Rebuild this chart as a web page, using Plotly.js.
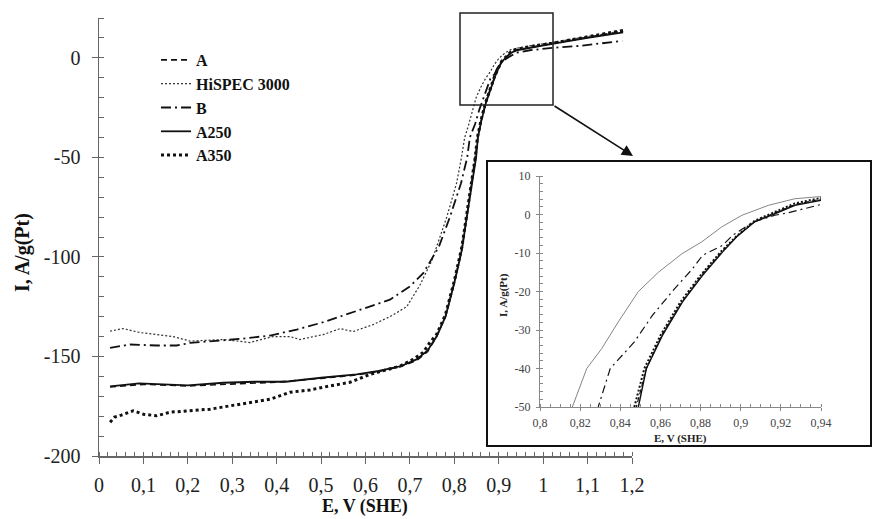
<!DOCTYPE html>
<html><head><meta charset="utf-8">
<script src="https://cdn.plot.ly/plotly-3.0.1.min.js"></script>
<style>html,body{margin:0;padding:0;background:#fff}#chart{width:873px;height:519px}</style>
</head><body><div id="chart"></div>
<script>
// ---- data ----
const seriesNames = ["A", "HiSPEC 3000", "B", "A250", "A350"];

const aE = [0.025,0.1,0.2,0.3,0.4,0.5,0.58,0.63,0.68,0.715,0.74,0.76,0.78,0.80,0.817,0.828,0.839,0.848,0.853,0.861,0.871,0.881,0.891,0.898,0.907,0.917,0.927,0.94,0.97,1.02,1.1,1.18];
const aI = [-165.3,-164,-164.8,-163.8,-162.9,-161,-159.3,-157.5,-155,-152,-147.5,-140,-130,-113,-96,-80,-63,-50,-40,-31,-22.5,-15.5,-9.5,-5.7,-1.8,0.4,2.6,4.0,5.3,7.2,10.3,13.4];

const hiE = [0.025,0.054,0.092,0.167,0.205,0.28,0.34,0.392,0.43,0.452,0.505,0.543,0.572,0.617,0.655,0.693,0.723,0.75,0.783,0.805,0.8161,0.8233,0.8308,0.839,0.849,0.859,0.8707,0.8806,0.8906,0.9006,0.9139,0.927,0.94,0.97,1.02,1.1,1.18];
const hiI = [-137.3,-136,-138,-140,-142.3,-141.5,-143,-140,-140,-141.5,-139,-136,-137.5,-134,-130,-125,-114,-101.5,-80,-63,-50,-40,-34.8,-27.9,-20,-15,-10.2,-7.1,-3.2,-0.2,2.4,4.1,4.8,6.0,7.8,10.5,13.5];

const bE = [0.025,0.07,0.13,0.175,0.205,0.265,0.317,0.385,0.445,0.505,0.58,0.655,0.7,0.73,0.765,0.79,0.815,0.829,0.835,0.847,0.856,0.867,0.876,0.881,0.891,0.896,0.906,0.917,0.924,0.94,0.97,1.02,1.083,1.178];
const bI = [-145.7,-144,-144.5,-144.5,-143.2,-142.3,-141.2,-139.5,-136.5,-132.8,-127.3,-121.5,-114.8,-108.2,-95,-80,-63,-50,-40,-33.1,-26.2,-19.3,-14.1,-10.6,-8,-5.4,-2,-0.2,0.5,2.6,3.8,5,6,8.5];

const a250E = [0.025,0.09,0.2,0.28,0.35,0.42,0.5,0.58,0.63,0.68,0.715,0.74,0.76,0.78,0.80,0.817,0.828,0.839,0.849,0.853,0.861,0.871,0.881,0.891,0.898,0.907,0.917,0.927,0.94,0.97,1.02,1.1,1.18];
const a250I = [-165,-163.5,-164.5,-163.2,-162.7,-162.7,-160.7,-159,-157.3,-154.8,-151.5,-147,-140,-130,-113,-96.5,-80,-63,-50,-40,-31.4,-22.7,-15.8,-9.7,-5.8,-1.9,0.2,2.4,3.7,5.0,7.0,10,12.8];

const a350E = [0.025,0.035,0.05,0.077,0.1,0.13,0.16,0.205,0.25,0.295,0.34,0.385,0.43,0.475,0.52,0.565,0.61,0.64,0.678,0.707,0.73,0.745,0.76,0.78,0.80,0.817,0.828,0.839,0.847,0.852,0.86,0.87,0.88,0.89,0.898,0.907,0.917,0.927,0.94,0.97,1.02,1.1,1.18];
const a350I = [-183,-180.5,-179.5,-177.3,-179,-179.8,-178,-177.3,-176.5,-174.8,-173,-171.5,-168,-166.8,-164.8,-163,-159,-157.3,-154.8,-151.5,-148,-143,-139,-129,-112,-95,-79,-62,-50,-40,-31.4,-22.7,-15.8,-9.7,-5.6,-1.6,0.6,2.9,4.3,5.6,7.3,10.5,13.8];

const mainXTickVals = [0,0.1,0.2,0.3,0.4,0.5,0.6,0.7,0.8,0.9,1,1.1,1.2];
const mainXTickText = ["0","0,1","0,2","0,3","0,4","0,5","0,6","0,7","0,8","0,9","1","1,1","1,2"];
const mainYTickVals = [-200,-150,-100,-50,0];
const mainYTickText = ["-200","-150","-100","-50","0"];
const insetXTickVals = [0.8,0.82,0.84,0.86,0.88,0.9,0.92,0.94];
const insetXTickText = ["0,8","0,82","0,84","0,86","0,88","0,9","0,92","0,94"];
const insetYTickVals = [-50,-40,-30,-20,-10,0,10];
const insetYTickText = ["-50","-40","-30","-20","-10","0","10"];

// ---- styles ----
const xs = [aE, hiE, bE, a250E, a350E];
const ys = [aI, hiI, bI, a250I, a350I];
const mainLines = [
  {color:'#111', width:1.6, dash:'6px,4px'},
  {color:'#333', width:1.2, dash:'2px,2px'},
  {color:'#111', width:1.8, dash:'10px,4px,2px,4px'},
  {color:'#111', width:1.8, dash:'solid'},
  {color:'#111', width:3, dash:'3px,3px'}
];
const insetLines = [
  {color:'#111', width:1.2, dash:'5px,3px'},
  {color:'#777', width:0.9, dash:'solid'},
  {color:'#111', width:1.2, dash:'8px,4px,2px,4px'},
  {color:'#111', width:1.4, dash:'solid'},
  {color:'#111', width:2, dash:'2px,2px'}
];

const traces = [];
for (let i = 0; i < 5; i++) {
  traces.push({x: xs[i], y: ys[i], name: seriesNames[i], type:'scatter', mode:'lines',
    line: mainLines[i], xaxis:'x', yaxis:'y', hoverinfo:'skip'});
}
for (let i = 0; i < 5; i++) {
  traces.push({x: xs[i], y: ys[i], name: seriesNames[i], type:'scatter', mode:'lines',
    line: insetLines[i], xaxis:'x2', yaxis:'y2', showlegend:false, hoverinfo:'skip'});
}

const W = 873, H = 519;
const px = v => v / W;
const py = v => 1 - v / H;
const serif = '"Liberation Serif", "Times New Roman", Times, serif';
const axisCol = '#666';

const layout = {
  width: W, height: H,
  margin: {l:0, r:0, t:0, b:0},
  paper_bgcolor:'#fff', plot_bgcolor:'rgba(0,0,0,0)',
  font: {family: serif},
  showlegend: true,
  legend: {x: px(156), y: py(43), xanchor:'left', yanchor:'top', bgcolor:'rgba(0,0,0,0)',
    font:{family: serif, size:16, color:'#111', weight:'bold'}, itemwidth:30, tracegroupgap:0},
  xaxis: {domain:[px(99), px(632)], range:[0,1.2], anchor:'y',
    tickmode:'array', tickvals: mainXTickVals, ticktext: mainXTickText,
    ticks:'outside', ticklen:6, tickwidth:1, tickcolor:axisCol,
    minor:{tickmode:'linear', tick0:0, dtick:0.02, ticks:'inside', ticklen:4, tickcolor:axisCol, showgrid:false},
    showline:true, linecolor:axisCol, linewidth:1.5, showgrid:false, zeroline:false,
    tickfont:{family: serif, size:20, color:'#222'}, ticklabelstandoff:4},
  yaxis: {domain:[py(456), py(18)], range:[-200,20], anchor:'x',
    tickmode:'array', tickvals: mainYTickVals, ticktext: mainYTickText,
    ticks:'outside', ticklen:6, tickwidth:1, tickcolor:axisCol,
    minor:{tickmode:'linear', tick0:0, dtick:10, ticks:'inside', ticklen:5, tickcolor:axisCol, showgrid:false},
    showline:true, linecolor:axisCol, linewidth:1.5, showgrid:false, zeroline:false,
    tickfont:{family: serif, size:20, color:'#222'}, ticklabelstandoff:7},
  xaxis3: {overlaying:'x', anchor:'y', range:[0,1.2], tickmode:'array', tickvals: mainXTickVals,
    ticks:'inside', ticklen:4, tickcolor:axisCol, showticklabels:false, showline:false, showgrid:false, zeroline:false},
  yaxis3: {overlaying:'y', anchor:'x', range:[-200,20], tickmode:'array', tickvals: mainYTickVals,
    ticks:'inside', ticklen:5, tickcolor:axisCol, showticklabels:false, showline:false, showgrid:false, zeroline:false},
  xaxis2: {domain:[px(540), px(821)], range:[0.8,0.94], anchor:'y2',
    tickmode:'array', tickvals: insetXTickVals, ticktext: insetXTickText,
    ticks:'outside', ticklen:3, tickcolor:'#888',
    minor:{tickmode:'linear', tick0:0.8, dtick:0.005, ticks:'inside', ticklen:3, tickcolor:'#888', showgrid:false},
    showline:true, linecolor:'#888', linewidth:1, showgrid:false, zeroline:false,
    tickfont:{family: serif, size:12, color:'#444'}, ticklabelstandoff:2},
  yaxis2: {domain:[py(407), py(176)], range:[-50,10], anchor:'x2',
    tickmode:'array', tickvals: insetYTickVals, ticktext: insetYTickText,
    ticks:'outside', ticklen:3, tickcolor:'#888',
    minor:{tickmode:'linear', tick0:0, dtick:2, ticks:'inside', ticklen:3, tickcolor:'#888', showgrid:false},
    showline:true, linecolor:'#888', linewidth:1, showgrid:false, zeroline:false,
    tickfont:{family: serif, size:12, color:'#444'}, ticklabelstandoff:3},
  shapes: [
    {type:'rect', xref:'paper', yref:'paper', x0:px(487), x1:px(871), y0:py(446), y1:py(161),
      line:{color:'#111', width:2}, fillcolor:'#fff', layer:'below'},
    {type:'rect', xref:'paper', yref:'paper', x0:px(460), x1:px(553), y0:py(105), y1:py(13),
      line:{color:'#222', width:1.5}, fillcolor:'rgba(0,0,0,0)', layer:'above'}
  ],
  annotations: [
    {xref:'paper', yref:'paper', x:px(633), y:py(156), ax:-80, ay:-51, axref:'pixel', ayref:'pixel',
      showarrow:true, arrowhead:2, arrowsize:1.4, arrowwidth:1.6, arrowcolor:'#111', text:''},
    {xref:'paper', yref:'paper', x:px(365), y:py(506), text:'E, V (SHE)', showarrow:false,
      font:{family: serif, size:18, color:'#111', weight:'bold'}, xanchor:'center', yanchor:'middle'},
    {xref:'paper', yref:'paper', x:px(22), y:py(253), text:'I, A/g(Pt)', showarrow:false, textangle:-90,
      font:{family: serif, size:20, color:'#111', weight:'bold'}, xanchor:'center', yanchor:'middle'},
    {xref:'paper', yref:'paper', x:px(680), y:py(438), text:'E, V (SHE)', showarrow:false,
      font:{family: serif, size:11, color:'#222', weight:'bold'}, xanchor:'center', yanchor:'middle'},
    {xref:'paper', yref:'paper', x:px(503), y:py(295), text:'I, A/g(Pt)', showarrow:false, textangle:-90,
      font:{family: serif, size:11, color:'#222', weight:'bold'}, xanchor:'center', yanchor:'middle'}
  ]
};

Plotly.newPlot('chart', traces, layout, {displayModeBar:false, staticPlot:true});
</script></body></html>
